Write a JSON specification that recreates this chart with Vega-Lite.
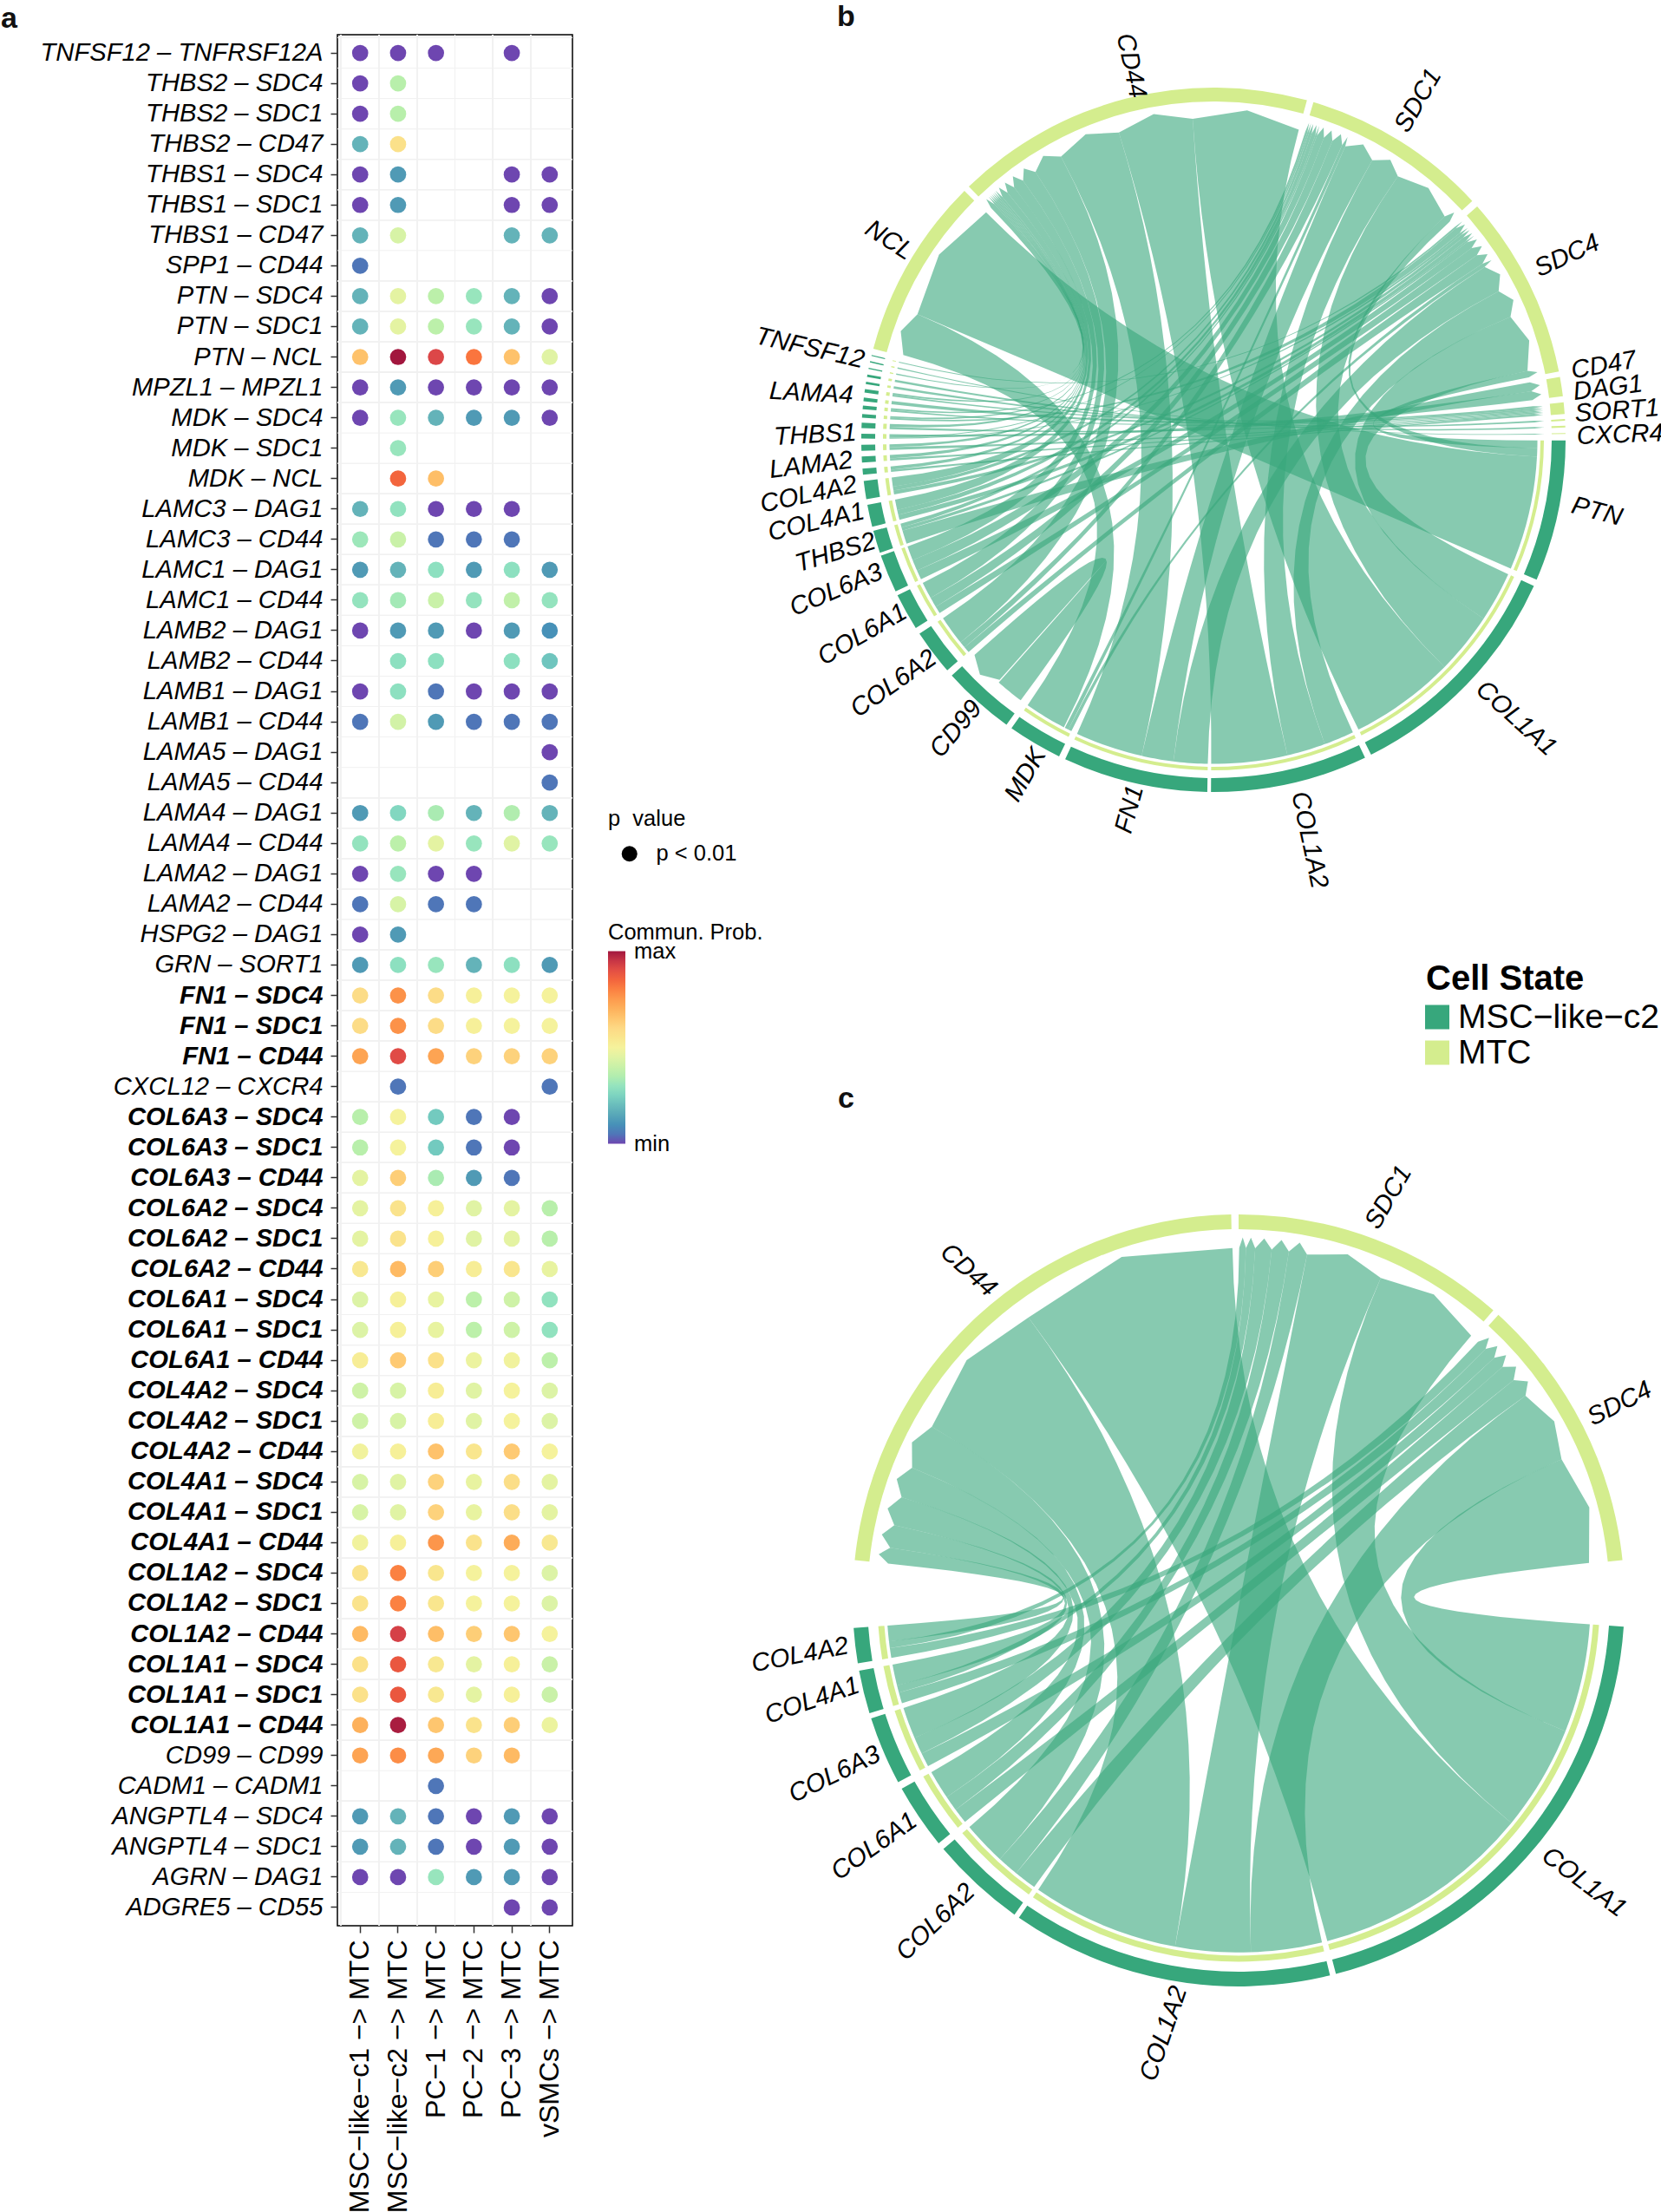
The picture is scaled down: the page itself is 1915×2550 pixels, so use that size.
{"$schema":"https://vega.github.io/schema/vega-lite/v6.json","padding":{"left":0,"top":2,"right":0,"bottom":0},"background":"white","bounds":"flush","spacing":222,"resolve":{"scale":{"color":"independent"},"legend":{"color":"independent"}},"config":{"font":"Liberation Sans","view":{"stroke":null}},
"datasets":{
"dots":[
{"pair":"TNFSF12 – TNFRSF12A","sender":"c1","prob":0},{"pair":"TNFSF12 – TNFRSF12A","sender":"c2","prob":0},{"pair":"TNFSF12 – TNFRSF12A","sender":"P1","prob":0},{"pair":"TNFSF12 – TNFRSF12A","sender":"P3","prob":0},
{"pair":"THBS2 – SDC4","sender":"c1","prob":0},{"pair":"THBS2 – SDC4","sender":"c2","prob":0.36},
{"pair":"THBS2 – SDC1","sender":"c1","prob":0},{"pair":"THBS2 – SDC1","sender":"c2","prob":0.36},
{"pair":"THBS2 – CD47","sender":"c1","prob":0.18},{"pair":"THBS2 – CD47","sender":"c2","prob":0.57},
{"pair":"THBS1 – SDC4","sender":"c1","prob":0},{"pair":"THBS1 – SDC4","sender":"c2","prob":0.12},{"pair":"THBS1 – SDC4","sender":"P3","prob":0},{"pair":"THBS1 – SDC4","sender":"vS","prob":0},
{"pair":"THBS1 – SDC1","sender":"c1","prob":0},{"pair":"THBS1 – SDC1","sender":"c2","prob":0.12},{"pair":"THBS1 – SDC1","sender":"P3","prob":0},{"pair":"THBS1 – SDC1","sender":"vS","prob":0},
{"pair":"THBS1 – CD47","sender":"c1","prob":0.18},{"pair":"THBS1 – CD47","sender":"c2","prob":0.43},{"pair":"THBS1 – CD47","sender":"P3","prob":0.18},{"pair":"THBS1 – CD47","sender":"vS","prob":0.18},
{"pair":"SPP1 – CD44","sender":"c1","prob":0.05},
{"pair":"PTN – SDC4","sender":"c1","prob":0.18},{"pair":"PTN – SDC4","sender":"c2","prob":0.46},{"pair":"PTN – SDC4","sender":"P1","prob":0.37},{"pair":"PTN – SDC4","sender":"P2","prob":0.31},{"pair":"PTN – SDC4","sender":"P3","prob":0.18},{"pair":"PTN – SDC4","sender":"vS","prob":0},
{"pair":"PTN – SDC1","sender":"c1","prob":0.18},{"pair":"PTN – SDC1","sender":"c2","prob":0.46},{"pair":"PTN – SDC1","sender":"P1","prob":0.37},{"pair":"PTN – SDC1","sender":"P2","prob":0.31},{"pair":"PTN – SDC1","sender":"P3","prob":0.18},{"pair":"PTN – SDC1","sender":"vS","prob":0},
{"pair":"PTN – NCL","sender":"c1","prob":0.66},{"pair":"PTN – NCL","sender":"c2","prob":1},{"pair":"PTN – NCL","sender":"P1","prob":0.92},{"pair":"PTN – NCL","sender":"P2","prob":0.82},{"pair":"PTN – NCL","sender":"P3","prob":0.66},{"pair":"PTN – NCL","sender":"vS","prob":0.45},
{"pair":"MPZL1 – MPZL1","sender":"c1","prob":0},{"pair":"MPZL1 – MPZL1","sender":"c2","prob":0.12},{"pair":"MPZL1 – MPZL1","sender":"P1","prob":0},{"pair":"MPZL1 – MPZL1","sender":"P2","prob":0},{"pair":"MPZL1 – MPZL1","sender":"P3","prob":0},{"pair":"MPZL1 – MPZL1","sender":"vS","prob":0},
{"pair":"MDK – SDC4","sender":"c1","prob":0},{"pair":"MDK – SDC4","sender":"c2","prob":0.31},{"pair":"MDK – SDC4","sender":"P1","prob":0.18},{"pair":"MDK – SDC4","sender":"P2","prob":0.12},{"pair":"MDK – SDC4","sender":"P3","prob":0.12},{"pair":"MDK – SDC4","sender":"vS","prob":0},
{"pair":"MDK – SDC1","sender":"c2","prob":0.31},
{"pair":"MDK – NCL","sender":"c2","prob":0.85},{"pair":"MDK – NCL","sender":"P1","prob":0.67},
{"pair":"LAMC3 – DAG1","sender":"c1","prob":0.18},{"pair":"LAMC3 – DAG1","sender":"c2","prob":0.29},{"pair":"LAMC3 – DAG1","sender":"P1","prob":0},{"pair":"LAMC3 – DAG1","sender":"P2","prob":0},{"pair":"LAMC3 – DAG1","sender":"P3","prob":0},
{"pair":"LAMC3 – CD44","sender":"c1","prob":0.32},{"pair":"LAMC3 – CD44","sender":"c2","prob":0.4},{"pair":"LAMC3 – CD44","sender":"P1","prob":0.05},{"pair":"LAMC3 – CD44","sender":"P2","prob":0.05},{"pair":"LAMC3 – CD44","sender":"P3","prob":0.05},
{"pair":"LAMC1 – DAG1","sender":"c1","prob":0.12},{"pair":"LAMC1 – DAG1","sender":"c2","prob":0.18},{"pair":"LAMC1 – DAG1","sender":"P1","prob":0.28},{"pair":"LAMC1 – DAG1","sender":"P2","prob":0.12},{"pair":"LAMC1 – DAG1","sender":"P3","prob":0.28},{"pair":"LAMC1 – DAG1","sender":"vS","prob":0.12},
{"pair":"LAMC1 – CD44","sender":"c1","prob":0.3},{"pair":"LAMC1 – CD44","sender":"c2","prob":0.33},{"pair":"LAMC1 – CD44","sender":"P1","prob":0.4},{"pair":"LAMC1 – CD44","sender":"P2","prob":0.3},{"pair":"LAMC1 – CD44","sender":"P3","prob":0.38},{"pair":"LAMC1 – CD44","sender":"vS","prob":0.3},
{"pair":"LAMB2 – DAG1","sender":"c1","prob":0},{"pair":"LAMB2 – DAG1","sender":"c2","prob":0.12},{"pair":"LAMB2 – DAG1","sender":"P1","prob":0.12},{"pair":"LAMB2 – DAG1","sender":"P2","prob":0},{"pair":"LAMB2 – DAG1","sender":"P3","prob":0.12},{"pair":"LAMB2 – DAG1","sender":"vS","prob":0.1},
{"pair":"LAMB2 – CD44","sender":"c2","prob":0.28},{"pair":"LAMB2 – CD44","sender":"P1","prob":0.28},{"pair":"LAMB2 – CD44","sender":"P3","prob":0.28},{"pair":"LAMB2 – CD44","sender":"vS","prob":0.22},
{"pair":"LAMB1 – DAG1","sender":"c1","prob":0},{"pair":"LAMB1 – DAG1","sender":"c2","prob":0.28},{"pair":"LAMB1 – DAG1","sender":"P1","prob":0.05},{"pair":"LAMB1 – DAG1","sender":"P2","prob":0},{"pair":"LAMB1 – DAG1","sender":"P3","prob":0},{"pair":"LAMB1 – DAG1","sender":"vS","prob":0},
{"pair":"LAMB1 – CD44","sender":"c1","prob":0.05},{"pair":"LAMB1 – CD44","sender":"c2","prob":0.42},{"pair":"LAMB1 – CD44","sender":"P1","prob":0.12},{"pair":"LAMB1 – CD44","sender":"P2","prob":0.05},{"pair":"LAMB1 – CD44","sender":"P3","prob":0.05},{"pair":"LAMB1 – CD44","sender":"vS","prob":0.05},
{"pair":"LAMA5 – DAG1","sender":"vS","prob":0},
{"pair":"LAMA5 – CD44","sender":"vS","prob":0.05},
{"pair":"LAMA4 – DAG1","sender":"c1","prob":0.12},{"pair":"LAMA4 – DAG1","sender":"c2","prob":0.26},{"pair":"LAMA4 – DAG1","sender":"P1","prob":0.34},{"pair":"LAMA4 – DAG1","sender":"P2","prob":0.18},{"pair":"LAMA4 – DAG1","sender":"P3","prob":0.35},{"pair":"LAMA4 – DAG1","sender":"vS","prob":0.18},
{"pair":"LAMA4 – CD44","sender":"c1","prob":0.3},{"pair":"LAMA4 – CD44","sender":"c2","prob":0.37},{"pair":"LAMA4 – CD44","sender":"P1","prob":0.46},{"pair":"LAMA4 – CD44","sender":"P2","prob":0.31},{"pair":"LAMA4 – CD44","sender":"P3","prob":0.45},{"pair":"LAMA4 – CD44","sender":"vS","prob":0.31},
{"pair":"LAMA2 – DAG1","sender":"c1","prob":0},{"pair":"LAMA2 – DAG1","sender":"c2","prob":0.31},{"pair":"LAMA2 – DAG1","sender":"P1","prob":0},{"pair":"LAMA2 – DAG1","sender":"P2","prob":0},
{"pair":"LAMA2 – CD44","sender":"c1","prob":0.05},{"pair":"LAMA2 – CD44","sender":"c2","prob":0.43},{"pair":"LAMA2 – CD44","sender":"P1","prob":0.05},{"pair":"LAMA2 – CD44","sender":"P2","prob":0.05},
{"pair":"HSPG2 – DAG1","sender":"c1","prob":0},{"pair":"HSPG2 – DAG1","sender":"c2","prob":0.12},
{"pair":"GRN – SORT1","sender":"c1","prob":0.12},{"pair":"GRN – SORT1","sender":"c2","prob":0.28},{"pair":"GRN – SORT1","sender":"P1","prob":0.31},{"pair":"GRN – SORT1","sender":"P2","prob":0.18},{"pair":"GRN – SORT1","sender":"P3","prob":0.28},{"pair":"GRN – SORT1","sender":"vS","prob":0.12},
{"pair":"FN1 – SDC4","sender":"c1","prob":0.59},{"pair":"FN1 – SDC4","sender":"c2","prob":0.77},{"pair":"FN1 – SDC4","sender":"P1","prob":0.59},{"pair":"FN1 – SDC4","sender":"P2","prob":0.51},{"pair":"FN1 – SDC4","sender":"P3","prob":0.5},{"pair":"FN1 – SDC4","sender":"vS","prob":0.5},
{"pair":"FN1 – SDC1","sender":"c1","prob":0.59},{"pair":"FN1 – SDC1","sender":"c2","prob":0.77},{"pair":"FN1 – SDC1","sender":"P1","prob":0.59},{"pair":"FN1 – SDC1","sender":"P2","prob":0.51},{"pair":"FN1 – SDC1","sender":"P3","prob":0.5},{"pair":"FN1 – SDC1","sender":"vS","prob":0.5},
{"pair":"FN1 – CD44","sender":"c1","prob":0.73},{"pair":"FN1 – CD44","sender":"c2","prob":0.91},{"pair":"FN1 – CD44","sender":"P1","prob":0.73},{"pair":"FN1 – CD44","sender":"P2","prob":0.62},{"pair":"FN1 – CD44","sender":"P3","prob":0.62},{"pair":"FN1 – CD44","sender":"vS","prob":0.62},
{"pair":"CXCL12 – CXCR4","sender":"c2","prob":0.05},{"pair":"CXCL12 – CXCR4","sender":"vS","prob":0.05},
{"pair":"COL6A3 – SDC4","sender":"c1","prob":0.36},{"pair":"COL6A3 – SDC4","sender":"c2","prob":0.5},{"pair":"COL6A3 – SDC4","sender":"P1","prob":0.23},{"pair":"COL6A3 – SDC4","sender":"P2","prob":0.05},{"pair":"COL6A3 – SDC4","sender":"P3","prob":0},
{"pair":"COL6A3 – SDC1","sender":"c1","prob":0.36},{"pair":"COL6A3 – SDC1","sender":"c2","prob":0.5},{"pair":"COL6A3 – SDC1","sender":"P1","prob":0.23},{"pair":"COL6A3 – SDC1","sender":"P2","prob":0.05},{"pair":"COL6A3 – SDC1","sender":"P3","prob":0},
{"pair":"COL6A3 – CD44","sender":"c1","prob":0.46},{"pair":"COL6A3 – CD44","sender":"c2","prob":0.63},{"pair":"COL6A3 – CD44","sender":"P1","prob":0.34},{"pair":"COL6A3 – CD44","sender":"P2","prob":0.12},{"pair":"COL6A3 – CD44","sender":"P3","prob":0.05},
{"pair":"COL6A2 – SDC4","sender":"c1","prob":0.46},{"pair":"COL6A2 – SDC4","sender":"c2","prob":0.56},{"pair":"COL6A2 – SDC4","sender":"P1","prob":0.51},{"pair":"COL6A2 – SDC4","sender":"P2","prob":0.45},{"pair":"COL6A2 – SDC4","sender":"P3","prob":0.46},{"pair":"COL6A2 – SDC4","sender":"vS","prob":0.36},
{"pair":"COL6A2 – SDC1","sender":"c1","prob":0.46},{"pair":"COL6A2 – SDC1","sender":"c2","prob":0.56},{"pair":"COL6A2 – SDC1","sender":"P1","prob":0.51},{"pair":"COL6A2 – SDC1","sender":"P2","prob":0.45},{"pair":"COL6A2 – SDC1","sender":"P3","prob":0.46},{"pair":"COL6A2 – SDC1","sender":"vS","prob":0.36},
{"pair":"COL6A2 – CD44","sender":"c1","prob":0.54},{"pair":"COL6A2 – CD44","sender":"c2","prob":0.68},{"pair":"COL6A2 – CD44","sender":"P1","prob":0.63},{"pair":"COL6A2 – CD44","sender":"P2","prob":0.52},{"pair":"COL6A2 – CD44","sender":"P3","prob":0.55},{"pair":"COL6A2 – CD44","sender":"vS","prob":0.47},
{"pair":"COL6A1 – SDC4","sender":"c1","prob":0.44},{"pair":"COL6A1 – SDC4","sender":"c2","prob":0.51},{"pair":"COL6A1 – SDC4","sender":"P1","prob":0.47},{"pair":"COL6A1 – SDC4","sender":"P2","prob":0.37},{"pair":"COL6A1 – SDC4","sender":"P3","prob":0.41},{"pair":"COL6A1 – SDC4","sender":"vS","prob":0.29},
{"pair":"COL6A1 – SDC1","sender":"c1","prob":0.44},{"pair":"COL6A1 – SDC1","sender":"c2","prob":0.51},{"pair":"COL6A1 – SDC1","sender":"P1","prob":0.47},{"pair":"COL6A1 – SDC1","sender":"P2","prob":0.37},{"pair":"COL6A1 – SDC1","sender":"P3","prob":0.41},{"pair":"COL6A1 – SDC1","sender":"vS","prob":0.29},
{"pair":"COL6A1 – CD44","sender":"c1","prob":0.52},{"pair":"COL6A1 – CD44","sender":"c2","prob":0.64},{"pair":"COL6A1 – CD44","sender":"P1","prob":0.57},{"pair":"COL6A1 – CD44","sender":"P2","prob":0.48},{"pair":"COL6A1 – CD44","sender":"P3","prob":0.49},{"pair":"COL6A1 – CD44","sender":"vS","prob":0.37},
{"pair":"COL4A2 – SDC4","sender":"c1","prob":0.41},{"pair":"COL4A2 – SDC4","sender":"c2","prob":0.43},{"pair":"COL4A2 – SDC4","sender":"P1","prob":0.52},{"pair":"COL4A2 – SDC4","sender":"P2","prob":0.45},{"pair":"COL4A2 – SDC4","sender":"P3","prob":0.5},{"pair":"COL4A2 – SDC4","sender":"vS","prob":0.44},
{"pair":"COL4A2 – SDC1","sender":"c1","prob":0.41},{"pair":"COL4A2 – SDC1","sender":"c2","prob":0.43},{"pair":"COL4A2 – SDC1","sender":"P1","prob":0.52},{"pair":"COL4A2 – SDC1","sender":"P2","prob":0.45},{"pair":"COL4A2 – SDC1","sender":"P3","prob":0.5},{"pair":"COL4A2 – SDC1","sender":"vS","prob":0.44},
{"pair":"COL4A2 – CD44","sender":"c1","prob":0.49},{"pair":"COL4A2 – CD44","sender":"c2","prob":0.51},{"pair":"COL4A2 – CD44","sender":"P1","prob":0.66},{"pair":"COL4A2 – CD44","sender":"P2","prob":0.55},{"pair":"COL4A2 – CD44","sender":"P3","prob":0.64},{"pair":"COL4A2 – CD44","sender":"vS","prob":0.5},
{"pair":"COL4A1 – SDC4","sender":"c1","prob":0.43},{"pair":"COL4A1 – SDC4","sender":"c2","prob":0.45},{"pair":"COL4A1 – SDC4","sender":"P1","prob":0.62},{"pair":"COL4A1 – SDC4","sender":"P2","prob":0.47},{"pair":"COL4A1 – SDC4","sender":"P3","prob":0.58},{"pair":"COL4A1 – SDC4","sender":"vS","prob":0.46},
{"pair":"COL4A1 – SDC1","sender":"c1","prob":0.43},{"pair":"COL4A1 – SDC1","sender":"c2","prob":0.45},{"pair":"COL4A1 – SDC1","sender":"P1","prob":0.62},{"pair":"COL4A1 – SDC1","sender":"P2","prob":0.47},{"pair":"COL4A1 – SDC1","sender":"P3","prob":0.58},{"pair":"COL4A1 – SDC1","sender":"vS","prob":0.46},
{"pair":"COL4A1 – CD44","sender":"c1","prob":0.49},{"pair":"COL4A1 – CD44","sender":"c2","prob":0.51},{"pair":"COL4A1 – CD44","sender":"P1","prob":0.76},{"pair":"COL4A1 – CD44","sender":"P2","prob":0.56},{"pair":"COL4A1 – CD44","sender":"P3","prob":0.71},{"pair":"COL4A1 – CD44","sender":"vS","prob":0.54},
{"pair":"COL1A2 – SDC4","sender":"c1","prob":0.56},{"pair":"COL1A2 – SDC4","sender":"c2","prob":0.8},{"pair":"COL1A2 – SDC4","sender":"P1","prob":0.55},{"pair":"COL1A2 – SDC4","sender":"P2","prob":0.5},{"pair":"COL1A2 – SDC4","sender":"P3","prob":0.5},{"pair":"COL1A2 – SDC4","sender":"vS","prob":0.44},
{"pair":"COL1A2 – SDC1","sender":"c1","prob":0.56},{"pair":"COL1A2 – SDC1","sender":"c2","prob":0.8},{"pair":"COL1A2 – SDC1","sender":"P1","prob":0.55},{"pair":"COL1A2 – SDC1","sender":"P2","prob":0.5},{"pair":"COL1A2 – SDC1","sender":"P3","prob":0.5},{"pair":"COL1A2 – SDC1","sender":"vS","prob":0.44},
{"pair":"COL1A2 – CD44","sender":"c1","prob":0.68},{"pair":"COL1A2 – CD44","sender":"c2","prob":0.93},{"pair":"COL1A2 – CD44","sender":"P1","prob":0.67},{"pair":"COL1A2 – CD44","sender":"P2","prob":0.63},{"pair":"COL1A2 – CD44","sender":"P3","prob":0.65},{"pair":"COL1A2 – CD44","sender":"vS","prob":0.5},
{"pair":"COL1A1 – SDC4","sender":"c1","prob":0.57},{"pair":"COL1A1 – SDC4","sender":"c2","prob":0.88},{"pair":"COL1A1 – SDC4","sender":"P1","prob":0.54},{"pair":"COL1A1 – SDC4","sender":"P2","prob":0.46},{"pair":"COL1A1 – SDC4","sender":"P3","prob":0.51},{"pair":"COL1A1 – SDC4","sender":"vS","prob":0.4},
{"pair":"COL1A1 – SDC1","sender":"c1","prob":0.57},{"pair":"COL1A1 – SDC1","sender":"c2","prob":0.88},{"pair":"COL1A1 – SDC1","sender":"P1","prob":0.54},{"pair":"COL1A1 – SDC1","sender":"P2","prob":0.46},{"pair":"COL1A1 – SDC1","sender":"P3","prob":0.51},{"pair":"COL1A1 – SDC1","sender":"vS","prob":0.4},
{"pair":"COL1A1 – CD44","sender":"c1","prob":0.7},{"pair":"COL1A1 – CD44","sender":"c2","prob":0.99},{"pair":"COL1A1 – CD44","sender":"P1","prob":0.65},{"pair":"COL1A1 – CD44","sender":"P2","prob":0.56},{"pair":"COL1A1 – CD44","sender":"P3","prob":0.63},{"pair":"COL1A1 – CD44","sender":"vS","prob":0.48},
{"pair":"CD99 – CD99","sender":"c1","prob":0.73},{"pair":"CD99 – CD99","sender":"c2","prob":0.78},{"pair":"CD99 – CD99","sender":"P1","prob":0.72},{"pair":"CD99 – CD99","sender":"P2","prob":0.62},{"pair":"CD99 – CD99","sender":"P3","prob":0.68},
{"pair":"CADM1 – CADM1","sender":"P1","prob":0.05},
{"pair":"ANGPTL4 – SDC4","sender":"c1","prob":0.12},{"pair":"ANGPTL4 – SDC4","sender":"c2","prob":0.18},{"pair":"ANGPTL4 – SDC4","sender":"P1","prob":0.05},{"pair":"ANGPTL4 – SDC4","sender":"P2","prob":0},{"pair":"ANGPTL4 – SDC4","sender":"P3","prob":0.12},{"pair":"ANGPTL4 – SDC4","sender":"vS","prob":0},
{"pair":"ANGPTL4 – SDC1","sender":"c1","prob":0.12},{"pair":"ANGPTL4 – SDC1","sender":"c2","prob":0.18},{"pair":"ANGPTL4 – SDC1","sender":"P1","prob":0.05},{"pair":"ANGPTL4 – SDC1","sender":"P2","prob":0},{"pair":"ANGPTL4 – SDC1","sender":"P3","prob":0.12},{"pair":"ANGPTL4 – SDC1","sender":"vS","prob":0},
{"pair":"AGRN – DAG1","sender":"c1","prob":0},{"pair":"AGRN – DAG1","sender":"c2","prob":0},{"pair":"AGRN – DAG1","sender":"P1","prob":0.31},{"pair":"AGRN – DAG1","sender":"P2","prob":0.12},{"pair":"AGRN – DAG1","sender":"P3","prob":0.12},{"pair":"AGRN – DAG1","sender":"vS","prob":0},
{"pair":"ADGRE5 – CD55","sender":"P3","prob":0},{"pair":"ADGRE5 – CD55","sender":"vS","prob":0}
],
"ringB":[
{"gene":"NCL","state":"MTC","a0":285,"a1":315},{"gene":"CD44","state":"MTC","a0":316,"a1":375.4},{"gene":"SDC1","state":"MTC","a0":16.5,"a1":47.3},{"gene":"SDC4","state":"MTC","a0":48.5,"a1":78.8},{"gene":"CD47","state":"MTC","a0":79.7,"a1":82.9},{"gene":"DAG1","state":"MTC","a0":83.9,"a1":85.8},{"gene":"SORT1","state":"MTC","a0":86.6,"a1":86.9},{"gene":"MPZL1r","state":"MTC","a0":87.7,"a1":88},{"gene":"CXCR4","state":"MTC","a0":88.9,"a1":89.06},
{"gene":"PTN","state":"MSC−like−c2","a0":90.1,"a1":113.4},{"gene":"COL1A1","state":"MSC−like−c2","a0":114.5,"a1":153.4},{"gene":"COL1A2","state":"MSC−like−c2","a0":154.5,"a1":180.4},{"gene":"FN1","state":"MSC−like−c2","a0":181,"a1":204.9},{"gene":"MDK","state":"MSC−like−c2","a0":206,"a1":215},{"gene":"CD99","state":"MSC−like−c2","a0":216,"a1":228},{"gene":"COL6A2","state":"MSC−like−c2","a0":229.1,"a1":236.6},{"gene":"COL6A1","state":"MSC−like−c2","a0":237.7,"a1":243.8},{"gene":"COL6A3","state":"MSC−like−c2","a0":244.5,"a1":250.8},{"gene":"THBS2","state":"MSC−like−c2","a0":251.3,"a1":255},{"gene":"COL4A1","state":"MSC−like−c2","a0":255.7,"a1":259.35},{"gene":"COL4A2","state":"MSC−like−c2","a0":260.3,"a1":263.3},
{"gene":"LAMB1","state":"MSC−like−c2","a0":264.3,"a1":265.3},{"gene":"LAMA2","state":"MSC−like−c2","a0":266.3,"a1":267.3},{"gene":"LAMB2","state":"MSC−like−c2","a0":268.2,"a1":269.2},{"gene":"THBS1","state":"MSC−like−c2","a0":270.2,"a1":271},{"gene":"LAMC1","state":"MSC−like−c2","a0":271.9,"a1":272.8},{"gene":"ANGPTL4","state":"MSC−like−c2","a0":273.6,"a1":274.2},{"gene":"LAMC3","state":"MSC−like−c2","a0":275,"a1":275.6},{"gene":"AGRN","state":"MSC−like−c2","a0":276.3,"a1":276.9},{"gene":"LAMA4","state":"MSC−like−c2","a0":277.7,"a1":278.3},{"gene":"GRN","state":"MSC−like−c2","a0":279.1,"a1":279.5},{"gene":"MPZL1","state":"MSC−like−c2","a0":280.3,"a1":280.7},{"gene":"SPP1","state":"MSC−like−c2","a0":281.6,"a1":281.8},{"gene":"CXCL12","state":"MSC−like−c2","a0":282.7,"a1":282.9},{"gene":"TNFSF12","state":"MSC−like−c2","a0":283.8,"a1":283.95}
],
"chordB":[
{"source":"PTN","target":"SDC4","s0":90.1,"s1":91.5,"t0":77.6,"t1":78.8},{"source":"PTN","target":"SDC1","s0":91.5,"s1":93,"t0":46,"t1":47.3},{"source":"PTN","target":"NCL","s0":93,"s1":113.4,"t0":293,"t1":315},
{"source":"COL1A1","target":"SDC4","s0":114.5,"s1":123.5,"t0":67.5,"t1":77.6},{"source":"COL1A1","target":"SDC1","s0":123.5,"s1":134.5,"t0":35,"t1":46},{"source":"COL1A1","target":"CD44","s0":134.5,"s1":153.4,"t0":356.3,"t1":375.4},
{"source":"COL1A2","target":"SDC4","s0":154.5,"s1":159.9,"t0":62.5,"t1":67.5},{"source":"COL1A2","target":"SDC1","s0":159.9,"s1":166.8,"t0":29.6,"t1":35},{"source":"COL1A2","target":"CD44","s0":166.8,"s1":180.4,"t0":342.9,"t1":356.3},
{"source":"FN1","target":"SDC4","s0":181,"s1":187.1,"t0":57.5,"t1":62.5},{"source":"FN1","target":"SDC1","s0":187.1,"s1":192.8,"t0":24.2,"t1":29.6},{"source":"FN1","target":"CD44","s0":192.8,"s1":204.9,"t0":331.7,"t1":342.9},
{"source":"MDK","target":"SDC4","s0":206,"s1":206.6,"t0":56.8,"t1":57.5},{"source":"MDK","target":"SDC1","s0":206.6,"s1":207.3,"t0":23.6,"t1":24.2},{"source":"MDK","target":"NCL","s0":207.5,"s1":215,"t0":285.3,"t1":293},
{"source":"CD99","target":"CD99","s0":216.5,"s1":221.5,"t0":221.7,"t1":228},
{"source":"COL6A2","target":"SDC4","s0":229.1,"s1":230.2,"t0":55,"t1":56.8},{"source":"COL6A2","target":"SDC1","s0":230.2,"s1":231.3,"t0":21.7,"t1":23.6},{"source":"COL6A2","target":"CD44","s0":231.3,"s1":236.6,"t0":326.4,"t1":331.7},
{"source":"COL6A1","target":"SDC4","s0":237.7,"s1":239,"t0":53.4,"t1":55},{"source":"COL6A1","target":"SDC1","s0":239,"s1":240.8,"t0":20.1,"t1":21.7},{"source":"COL6A1","target":"CD44","s0":240.8,"s1":243.8,"t0":323.7,"t1":326.4},
{"source":"COL6A3","target":"SDC4","s0":244.5,"s1":246.2,"t0":52.1,"t1":53.4},{"source":"COL6A3","target":"SDC1","s0":246.2,"s1":248.2,"t0":18.8,"t1":20.1},{"source":"COL6A3","target":"CD44","s0":248.2,"s1":250.8,"t0":321.7,"t1":323.7},
{"source":"THBS2","target":"CD47","s0":251.3,"s1":253.7,"t0":79.7,"t1":81.3},{"source":"THBS2","target":"SDC4","s0":253.7,"s1":254.3,"t0":51.8,"t1":52.1},{"source":"THBS2","target":"SDC1","s0":254.3,"s1":255,"t0":18.5,"t1":18.8},
{"source":"COL4A1","target":"SDC4","s0":255.7,"s1":256.6,"t0":51,"t1":51.8},{"source":"COL4A1","target":"SDC1","s0":256.6,"s1":257.5,"t0":17.8,"t1":18.5},{"source":"COL4A1","target":"CD44","s0":257.5,"s1":259.35,"t0":320.2,"t1":321.7},
{"source":"COL4A2","target":"SDC4","s0":260.3,"s1":261,"t0":50.4,"t1":51},{"source":"COL4A2","target":"SDC1","s0":261,"s1":261.7,"t0":17.3,"t1":17.8},{"source":"COL4A2","target":"CD44","s0":261.7,"s1":263.3,"t0":319,"t1":320.2},
{"source":"LAMB1","target":"CD44","s0":264.7,"s1":265.3,"t0":318.6,"t1":319},{"source":"LAMB1","target":"DAG1","s0":264.3,"s1":264.7,"t0":85.5,"t1":85.8},
{"source":"LAMA2","target":"CD44","s0":266.7,"s1":267.3,"t0":318.3,"t1":318.6},{"source":"LAMA2","target":"DAG1","s0":266.3,"s1":266.7,"t0":85.3,"t1":85.5},
{"source":"LAMB2","target":"CD44","s0":268.7,"s1":269.2,"t0":318,"t1":318.3},{"source":"LAMB2","target":"DAG1","s0":268.2,"s1":268.7,"t0":85.1,"t1":85.3},
{"source":"THBS1","target":"SDC4","s0":270.2,"s1":270.4,"t0":50,"t1":50.4},{"source":"THBS1","target":"SDC1","s0":270.4,"s1":270.6,"t0":17,"t1":17.3},{"source":"THBS1","target":"CD47","s0":270.6,"s1":271,"t0":81.3,"t1":82.9},
{"source":"LAMC1","target":"CD44","s0":272.3,"s1":272.8,"t0":317.7,"t1":318},{"source":"LAMC1","target":"DAG1","s0":271.9,"s1":272.3,"t0":84.9,"t1":85.1},
{"source":"ANGPTL4","target":"SDC4","s0":273.6,"s1":273.9,"t0":48.9,"t1":50},{"source":"ANGPTL4","target":"SDC1","s0":273.9,"s1":274.2,"t0":16.6,"t1":17},
{"source":"LAMC3","target":"CD44","s0":275.3,"s1":275.6,"t0":317.4,"t1":317.7},{"source":"LAMC3","target":"DAG1","s0":275,"s1":275.3,"t0":84.7,"t1":84.9},
{"source":"AGRN","target":"DAG1","s0":276.3,"s1":276.9,"t0":84.4,"t1":84.7},
{"source":"LAMA4","target":"CD44","s0":278,"s1":278.3,"t0":317.1,"t1":317.4},{"source":"LAMA4","target":"DAG1","s0":277.7,"s1":278,"t0":84,"t1":84.4},
{"source":"GRN","target":"SORT1","s0":279.1,"s1":279.5,"t0":86.6,"t1":86.9},{"source":"MPZL1","target":"MPZL1r","s0":280.3,"s1":280.7,"t0":87.7,"t1":88},{"source":"SPP1","target":"CD44","s0":281.6,"s1":281.8,"t0":316.2,"t1":317.1},{"source":"CXCL12","target":"CXCR4","s0":282.7,"s1":282.9,"t0":88.9,"t1":89.06},{"source":"TNFSF12","target":"SDC4","s0":283.8,"s1":283.95,"t0":48.6,"t1":48.9}
],
"labelB":[
{"gene":"CD44","a":347.6,"r":1.087,"rot":78},{"gene":"SDC1","a":31.1,"r":1.125,"rot":-60},{"gene":"SDC4","a":62.5,"r":1.132,"rot":-25},{"gene":"CD47","a":79.2,"r":1.128,"rot":-10},{"gene":"DAG1","a":82.5,"r":1.13,"rot":-7},{"gene":"SORT1","a":85.9,"r":1.149,"rot":-4},{"gene":"CXCR4","a":89.3,"r":1.155,"rot":-2},{"gene":"PTN","a":100.6,"r":1.108,"rot":15},{"gene":"COL1A1","a":132.6,"r":1.168,"rot":42},{"gene":"COL1A2","a":166.5,"r":1.168,"rot":78},{"gene":"FN1","a":192.8,"r":1.076,"rot":-75},{"gene":"MDK","a":209.3,"r":1.09,"rot":-60},{"gene":"CD99","a":221.7,"r":1.099,"rot":-50},{"gene":"COL6A2","a":232.7,"r":1.142,"rot":-35},{"gene":"COL6A1","a":241,"r":1.14,"rot":-30},{"gene":"COL6A3","a":248.3,"r":1.153,"rot":-23},{"gene":"THBS2","a":253.4,"r":1.12,"rot":-17},{"gene":"COL4A1","a":258.3,"r":1.152,"rot":-13},{"gene":"COL4A2","a":262.3,"r":1.16,"rot":-12},{"gene":"LAMA2","a":266.4,"r":1.145,"rot":-7},{"gene":"THBS1","a":270.7,"r":1.131,"rot":-3},{"gene":"LAMA4","a":276.6,"r":1.15,"rot":3},{"gene":"TNFSF12","a":282.8,"r":1.175,"rot":13},{"gene":"NCL","a":301.6,"r":1.081,"rot":33}
],
"ringC":[
{"gene":"CD44","state":"MTC","a0":276,"a1":358.9},{"gene":"SDC1","state":"MTC","a0":0,"a1":41.3},{"gene":"SDC4","state":"MTC","a0":42.3,"a1":84},
{"gene":"COL1A1","state":"MSC−like−c2","a0":93.9,"a1":165.4},{"gene":"COL1A2","state":"MSC−like−c2","a0":166.3,"a1":214.7},{"gene":"COL6A2","state":"MSC−like−c2","a0":215.5,"a1":229.9},{"gene":"COL6A1","state":"MSC−like−c2","a0":231,"a1":240.8},{"gene":"COL6A3","state":"MSC−like−c2","a0":241.9,"a1":252.2},{"gene":"COL4A1","state":"MSC−like−c2","a0":253,"a1":259.5},{"gene":"COL4A2","state":"MSC−like−c2","a0":260.6,"a1":265.9}
],
"chordC":[
{"source":"COL1A1","target":"SDC4","s0":93.9,"s1":111.8,"t0":66.4,"t1":83.9},{"source":"COL1A1","target":"SDC1","s0":111.8,"s1":129.2,"t0":23.8,"t1":41.3},{"source":"COL1A1","target":"CD44","s0":129.2,"s1":165.4,"t0":323.4,"t1":359},
{"source":"COL1A2","target":"SDC4","s0":166.3,"s1":178,"t0":54.5,"t1":66.4},{"source":"COL1A2","target":"SDC1","s0":178,"s1":190.4,"t0":11.2,"t1":23.8},{"source":"COL1A2","target":"CD44","s0":190.4,"s1":214.7,"t0":299.5,"t1":323.4},
{"source":"COL6A2","target":"SDC4","s0":215.5,"s1":219.2,"t0":51.3,"t1":54.5},{"source":"COL6A2","target":"SDC1","s0":219.2,"s1":222.7,"t0":8.2,"t1":11.2},{"source":"COL6A2","target":"CD44","s0":222.7,"s1":229.9,"t0":292.1,"t1":299.5},
{"source":"COL6A1","target":"SDC4","s0":231,"s1":233.5,"t0":48.5,"t1":51.3},{"source":"COL6A1","target":"SDC1","s0":233.5,"s1":236,"t0":5.4,"t1":8.2},{"source":"COL6A1","target":"CD44","s0":236,"s1":240.8,"t0":287,"t1":292.1},
{"source":"COL6A3","target":"SDC4","s0":241.9,"s1":244.2,"t0":46.5,"t1":48.5},{"source":"COL6A3","target":"SDC1","s0":244.2,"s1":247,"t0":2.7,"t1":5.4},{"source":"COL6A3","target":"CD44","s0":247,"s1":252.2,"t0":282.3,"t1":287},
{"source":"COL4A1","target":"SDC4","s0":253,"s1":254.8,"t0":44.5,"t1":46.5},{"source":"COL4A1","target":"SDC1","s0":254.8,"s1":256,"t0":1.2,"t1":2.7},{"source":"COL4A1","target":"CD44","s0":256,"s1":259.5,"t0":278.6,"t1":282.3},
{"source":"COL4A2","target":"SDC4","s0":260.6,"s1":262.2,"t0":42.8,"t1":44.5},{"source":"COL4A2","target":"SDC1","s0":262.2,"s1":263.3,"t0":0.1,"t1":1.2},{"source":"COL4A2","target":"CD44","s0":263.3,"s1":265.9,"t0":276,"t1":278.6}
],
"labelC":[
{"gene":"CD44","a":320.7,"r":1.105,"rot":42},{"gene":"SDC1","a":20.4,"r":1.114,"rot":-60},{"gene":"SDC4","a":62.7,"r":1.111,"rot":-27},{"gene":"COL1A1","a":129.2,"r":1.155,"rot":37},{"gene":"COL1A2","a":189.8,"r":1.139,"rot":-71},{"gene":"COL6A2","a":223.3,"r":1.145,"rot":-44},{"gene":"COL6A1","a":236,"r":1.139,"rot":-35},{"gene":"COL6A3","a":246.7,"r":1.14,"rot":-26},{"gene":"COL4A1","a":256.8,"r":1.135,"rot":-19},{"gene":"COL4A2","a":262.9,"r":1.145,"rot":-11}
]
},
"hconcat":[
{"width":271,"height":2180,"view":{"stroke":"black","strokeWidth":1.5},
"title":{"text":"a","anchor":"start","frame":"group","dx":-388,"offset":1,"fontSize":34,"fontWeight":"bold","font":"Liberation Sans","color":"#111"},
"data":{"name":"dots"},
"layer":[
{"mark":{"type":"rule","color":"#f1f1f1","strokeWidth":1},"encoding":{"x":{"field":"sender","type":"nominal","bandPosition":0,"scale":{"type":"band","domain":["c1","c2","P1","P2","P3","vS"],"paddingInner":0,"paddingOuter":0.1}}}},
{"mark":{"type":"rule","color":"#f1f1f1","strokeWidth":1},"encoding":{"y":{"field":"pair","type":"nominal","bandPosition":0,"sort":null,"scale":{"type":"band","paddingInner":0,"paddingOuter":0.1}}}},
{"mark":{"type":"point","filled":true,"opacity":1,"size":350},
"encoding":{
"x":{"field":"sender","type":"nominal","scale":{"type":"band","domain":["c1","c2","P1","P2","P3","vS"],"paddingInner":0,"paddingOuter":0.1},
"axis":{"title":null,"labelAngle":270,"labelFontSize":32,"labelColor":"black","labelPadding":8,"tickSize":8,"tickColor":"#333","tickWidth":1.5,"domain":false,"grid":false,"labelLimit":600,"labelExpr":"{c1:'MSC−like−c1 −> MTC',c2:'MSC−like−c2 −> MTC',P1:'PC−1 −> MTC',P2:'PC−2 −> MTC',P3:'PC−3 −> MTC',vS:'vSMCs −> MTC'}[datum.label]"}},
"y":{"field":"pair","type":"nominal","sort":null,"scale":{"type":"band","paddingInner":0,"paddingOuter":0.1},
"axis":{"title":null,"labelFontSize":29.2,"labelFontStyle":"italic","labelColor":"black","labelPadding":9,"tickSize":8,"tickColor":"#333","tickWidth":1.5,"domain":false,"grid":false,"labelLimit":500,"labelFontWeight":{"condition":{"test":"test(/^(FN1|COL)/, datum.label)","value":"bold"},"value":"normal"}}},
"color":{"field":"prob","type":"quantitative","scale":{"domain":[0,0.05,0.12,0.18,0.28,0.31,0.36,0.4,0.44,0.5,0.55,0.6,0.66,0.72,0.78,0.83,0.88,0.92,1],"range":["#6e46b0","#4f76b8","#509ab5","#64b3b9","#8de0c0","#98e5bd","#b8efab","#c9f1a8","#dcf3a6","#f5f29c","#f9e68e","#fdd985","#fec26b","#fda856","#fc8d47","#f96f3c","#ea573f","#dc4748","#a2163e"]},
"legend":{"orient":"none","legendX":312,"legendY":1023,"title":"Commun. Prob.","titleFontSize":25.5,"titleFontWeight":"normal","titleColor":"black","titlePadding":8,"gradientLength":222,"gradientThickness":20,"values":[0,1],"labelExpr":"datum.value==0?'min':'max'","labelFontSize":25.5,"labelColor":"black","labelOffset":10,"encoding":{"labels":{"baseline":{"value":"middle"}}}}},
"shape":{"datum":"p < 0.01","scale":{"domain":["p < 0.01"],"range":["circle"]},
"legend":{"orient":"none","legendX":312,"legendY":892,"title":"p \u00a0value","titleFontSize":25.5,"titleFontWeight":"normal","titleColor":"black","titlePadding":14,"labelFontSize":25.5,"labelColor":"black","symbolFillColor":"black","symbolStrokeWidth":0,"symbolSize":324,"symbolOffset":12,"labelOffset":18}}
}}
]},
{"vconcat":[
{"width":1034,"height":999,
"title":{"text":"b","anchor":"start","frame":"group","dx":83,"dy":2,"offset":1,"fontSize":34,"fontWeight":"bold","font":"Liberation Sans","color":"#111"},
"layer":[
{"data":{"name":"chordB"},
"transform":[{"calculate":"sequence(0,53)","as":"i"},{"flatten":["i"]},{"calculate":"(datum.i-10)/20","as":"u"},{"calculate":"(datum.i-32)/20","as":"v"},
{"calculate":"datum.i<=10?0.92*sin(PI/180*(datum.s0+(datum.s1-datum.s0)*datum.i/10)):datum.i<=30?pow(1-datum.u,2)*0.92*sin(PI/180*datum.s1)+pow(datum.u,2)*0.913*sin(PI/180*datum.t0):datum.i==31?0.94*sin(PI/180*(datum.t0+datum.t1)/2):pow(1-datum.v,2)*0.913*sin(PI/180*datum.t1)+pow(datum.v,2)*0.92*sin(PI/180*datum.s0)","as":"x"},
{"calculate":"datum.i<=10?0.92*cos(PI/180*(datum.s0+(datum.s1-datum.s0)*datum.i/10)):datum.i<=30?pow(1-datum.u,2)*0.92*cos(PI/180*datum.s1)+pow(datum.u,2)*0.913*cos(PI/180*datum.t0):datum.i==31?0.94*cos(PI/180*(datum.t0+datum.t1)/2):pow(1-datum.v,2)*0.913*cos(PI/180*datum.t1)+pow(datum.v,2)*0.92*cos(PI/180*datum.s0)","as":"y"}],
"mark":{"type":"line","fill":"#37a77c","fillOpacity":0.6,"stroke":null,"interpolate":"linear"},
"encoding":{"x":{"field":"x","type":"quantitative","scale":{"domain":[-1.2734,1.2734]},"axis":null},"y":{"field":"y","type":"quantitative","scale":{"domain":[-1.31,1.15]},"axis":null},"detail":[{"field":"source"},{"field":"target"}],"order":{"field":"i","type":"quantitative"}}},
{"data":{"name":"ringB"},"mark":{"type":"arc","radius":406,"radius2":390},
"encoding":{"x":{"datum":0,"type":"quantitative","scale":{"domain":[-1.2734,1.2734]},"axis":null},"y":{"datum":0,"type":"quantitative","scale":{"domain":[-1.31,1.15]},"axis":null},
"theta":{"field":"a0","type":"quantitative","scale":{"domain":[0,360],"range":[0,6.283185]}},"theta2":{"field":"a1"},
"color":{"field":"state","type":"nominal","scale":{"domain":["MSC−like−c2","MTC"],"range":["#37a77c","#d4ed8e"]},"legend":null}}},
{"data":{"name":"ringB"},"transform":[{"filter":"datum.state!='MTC'&&datum.gene!='CD99'"}],"mark":{"type":"arc","radius":381,"radius2":377,"fill":"#d4ed8e"},
"encoding":{"x":{"datum":0,"type":"quantitative","scale":{"domain":[-1.2734,1.2734]},"axis":null},"y":{"datum":0,"type":"quantitative","scale":{"domain":[-1.31,1.15]},"axis":null},
"theta":{"field":"a0","type":"quantitative","scale":{"domain":[0,360],"range":[0,6.283185]}},"theta2":{"field":"a1"}}},
{"data":{"name":"labelB"},"transform":[{"calculate":"datum.r*sin(PI/180*datum.a)","as":"x"},{"calculate":"datum.r*cos(PI/180*datum.a)","as":"y"}],
"mark":{"type":"text","fontSize":29.5,"fontStyle":"italic","color":"black","align":"center","baseline":"middle"},
"encoding":{"x":{"field":"x","type":"quantitative","scale":{"domain":[-1.2734,1.2734]},"axis":null},"y":{"field":"y","type":"quantitative","scale":{"domain":[-1.31,1.15]},"axis":null},"text":{"field":"gene"},"angle":{"field":"rot","type":"quantitative","scale":null}}}
]},
{"width":1034,"height":1360,
"title":{"text":"c","anchor":"start","frame":"group","dx":84,"offset":1,"dy":226,"fontSize":34,"fontWeight":"bold","font":"Liberation Sans","color":"#111"},
"layer":[
{"data":{"name":"chordC"},
"transform":[{"calculate":"sequence(0,53)","as":"i"},{"flatten":["i"]},{"calculate":"(datum.i-10)/20","as":"u"},{"calculate":"(datum.i-32)/20","as":"v"},
{"calculate":"datum.i<=10?0.912*sin(PI/180*(datum.s0+(datum.s1-datum.s0)*datum.i/10)):datum.i<=30?pow(1-datum.u,2)*0.912*sin(PI/180*datum.s1)+pow(datum.u,2)*0.913*sin(PI/180*datum.t0):datum.i==31?0.94*sin(PI/180*(datum.t0+datum.t1)/2):pow(1-datum.v,2)*0.913*sin(PI/180*datum.t1)+pow(datum.v,2)*0.912*sin(PI/180*datum.s0)","as":"x"},
{"calculate":"datum.i<=10?0.912*cos(PI/180*(datum.s0+(datum.s1-datum.s0)*datum.i/10)):datum.i<=30?pow(1-datum.u,2)*0.912*cos(PI/180*datum.s1)+pow(datum.u,2)*0.913*cos(PI/180*datum.t0):datum.i==31?0.94*cos(PI/180*(datum.t0+datum.t1)/2):pow(1-datum.v,2)*0.913*cos(PI/180*datum.t1)+pow(datum.v,2)*0.912*cos(PI/180*datum.s0)","as":"y"}],
"mark":{"type":"line","fill":"#37a77c","fillOpacity":0.6,"stroke":null,"interpolate":"linear"},
"encoding":{"x":{"field":"x","type":"quantitative","scale":{"domain":[-1.227,1.0966]},"axis":null},"y":{"field":"y","type":"quantitative","scale":{"domain":[-1.29,1.766]},"axis":null},"detail":[{"field":"source"},{"field":"target"}],"order":{"field":"i","type":"quantitative"}}},
{"data":{"name":"ringC"},"mark":{"type":"arc","radius":445,"radius2":428},
"encoding":{"x":{"datum":0,"type":"quantitative","scale":{"domain":[-1.227,1.0966]},"axis":null},"y":{"datum":0,"type":"quantitative","scale":{"domain":[-1.29,1.766]},"axis":null},
"theta":{"field":"a0","type":"quantitative","scale":{"domain":[0,360],"range":[0,6.283185]}},"theta2":{"field":"a1"},
"color":{"field":"state","type":"nominal","scale":{"domain":["MSC−like−c2","MTC"],"range":["#37a77c","#d4ed8e"]},
"legend":{"orient":"none","legendX":762,"legendY":50,"title":"Cell State","titleFontSize":40,"titleFontWeight":"bold","titleColor":"black","titleLimit":400,"titlePadding":4,"labelFontSize":39,"labelColor":"black","labelLimit":400,"symbolType":"square","symbolSize":784,"symbolStrokeWidth":0,"symbolOffset":-6.5,"rowPadding":1,"labelOffset":4.5}}}},
{"data":{"name":"ringC"},"transform":[{"filter":"datum.state!='MTC'"}],"mark":{"type":"arc","radius":416.5,"radius2":409.5,"fill":"#d4ed8e"},
"encoding":{"x":{"datum":0,"type":"quantitative","scale":{"domain":[-1.227,1.0966]},"axis":null},"y":{"datum":0,"type":"quantitative","scale":{"domain":[-1.29,1.766]},"axis":null},
"theta":{"field":"a0","type":"quantitative","scale":{"domain":[0,360],"range":[0,6.283185]}},"theta2":{"field":"a1"}}},
{"data":{"name":"labelC"},"transform":[{"calculate":"datum.r*sin(PI/180*datum.a)","as":"x"},{"calculate":"datum.r*cos(PI/180*datum.a)","as":"y"}],
"mark":{"type":"text","fontSize":29.5,"fontStyle":"italic","color":"black","align":"center","baseline":"middle"},
"encoding":{"x":{"field":"x","type":"quantitative","scale":{"domain":[-1.227,1.0966]},"axis":null},"y":{"field":"y","type":"quantitative","scale":{"domain":[-1.29,1.766]},"axis":null},"text":{"field":"gene"},"angle":{"field":"rot","type":"quantitative","scale":null}}}
]}
],"spacing":20,"bounds":"flush","resolve":{"scale":{"color":"independent"},"legend":{"color":"independent"}}}
]}
